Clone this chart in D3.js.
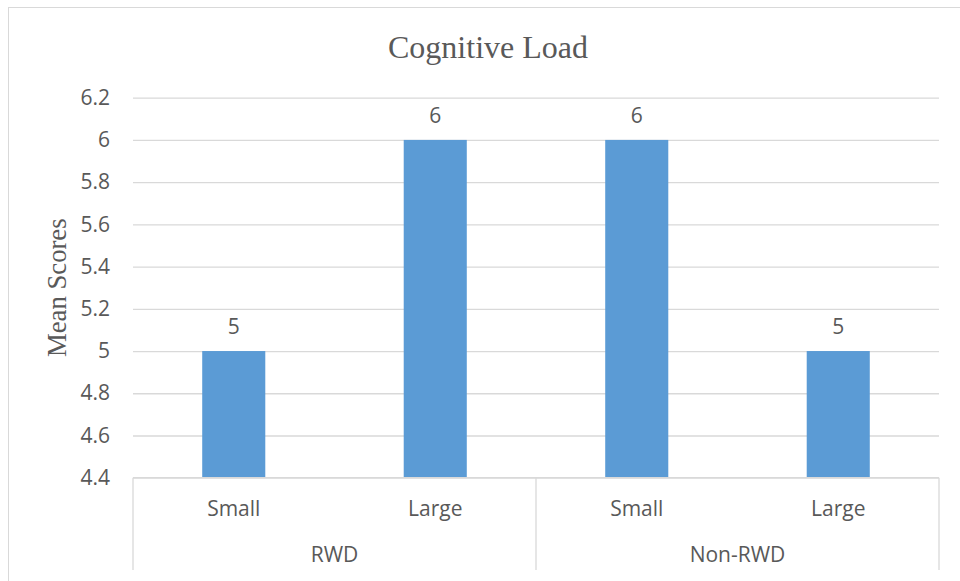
<!DOCTYPE html>
<html>
<head>
<meta charset="utf-8">
<script src="https://cdn.jsdelivr.net/npm/d3@7"></script>
<style>
    body { margin: 0; background: #fff; }
    svg { display: block; }
    .tick text, .cat, .grp, .val { font-family: "Open Sans", sans-serif; fill: #595959; }
</style>
</head>
<body>
<svg id="chart" width="960" height="581"></svg>
<script>
// Chart data
const groups = ["RWD", "Non-RWD"];
const categories = ["Small", "Large", "Small", "Large"];
const categoryGroup = [0, 0, 1, 1];
const values = [5, 6, 6, 5];
const yTicks = [4.4, 4.6, 4.8, 5, 5.2, 5.4, 5.6, 5.8, 6, 6.2];

const W = 960, H = 581;
const plot = { left: 133, right: 939, top: 97.7, bottom: 477.7 };
const axisColor = "#d9d9d9";
const textColor = "#595959";
const barColor = "#5b9bd5";

const svg = d3.select("#chart");

// Chart frame
svg.append("rect")
    .attr("x", 8.5).attr("y", 7.5)
    .attr("width", W).attr("height", H)
    .attr("fill", "#fff")
    .attr("stroke", axisColor)
    .attr("stroke-width", 1);

const x = d3.scaleBand()
    .domain(d3.range(categories.length))
    .range([plot.left, plot.right])
    .paddingInner(0.687)
    .paddingOuter(0.3435);

const y = d3.scaleLinear()
    .domain([yTicks[0], yTicks[yTicks.length - 1]])
    .range([plot.bottom, plot.top]);

// Gridlines and tick labels
const yAxis = svg.append("g")
    .attr("transform", `translate(${plot.left},0)`)
    .call(d3.axisLeft(y)
        .tickValues(yTicks)
        .tickSize(-(plot.right - plot.left))
        .tickPadding(23)
        .tickFormat(d => String(+d.toFixed(1))));
yAxis.select(".domain").remove();
yAxis.selectAll(".tick line")
    .attr("stroke", axisColor)
    .attr("stroke-width", 1.3);
yAxis.selectAll(".tick text")
    .attr("font-size", 21)
    .attr("fill", textColor);

// Bars
svg.append("g")
    .selectAll("rect")
    .data(values)
    .enter()
    .append("rect")
    .attr("x", (d, i) => x(i))
    .attr("width", x.bandwidth())
    .attr("y", d => y(d))
    .attr("height", d => y(yTicks[0]) - y(d))
    .attr("fill", barColor);

// Value labels
svg.append("g")
    .selectAll("text")
    .data(values)
    .enter()
    .append("text")
    .attr("class", "val")
    .attr("x", (d, i) => x(i) + x.bandwidth() / 2)
    .attr("y", d => y(d) - 17)
    .attr("text-anchor", "middle")
    .attr("font-size", 21)
    .text(d => d);

// Category axis (two levels)
const step = x.step();
const axisG = svg.append("g");
axisG.append("line")
    .attr("x1", plot.left).attr("x2", plot.right)
    .attr("y1", plot.bottom).attr("y2", plot.bottom)
    .attr("stroke", axisColor)
    .attr("stroke-width", 1.3);

const bounds = [0, 2, 4].map(i => plot.left + i * step);
axisG.selectAll("line.sep")
    .data(bounds)
    .enter()
    .append("line")
    .attr("class", "sep")
    .attr("x1", d => d).attr("x2", d => d)
    .attr("y1", plot.bottom).attr("y2", 570)
    .attr("stroke", axisColor)
    .attr("stroke-width", 1.3);

axisG.selectAll("text.cat")
    .data(categories)
    .enter()
    .append("text")
    .attr("class", "cat")
    .attr("x", (d, i) => x(i) + x.bandwidth() / 2)
    .attr("y", 516)
    .attr("text-anchor", "middle")
    .attr("font-size", 21)
    .text(d => d);

axisG.selectAll("text.grp")
    .data(groups)
    .enter()
    .append("text")
    .attr("class", "grp")
    .attr("x", (d, gi) => {
        const idx = categoryGroup.map((g, i) => g === gi ? i : -1).filter(i => i >= 0);
        return plot.left + (idx[0] + idx.length / 2) * step;
    })
    .attr("y", 562)
    .attr("text-anchor", "middle")
    .attr("font-size", 21)
    .text(d => d);

// Title
svg.append("text")
    .attr("x", 488)
    .attr("y", 58)
    .attr("text-anchor", "middle")
    .attr("font-family", "'Liberation Serif', 'Times New Roman', serif")
    .attr("font-size", 32)
    .attr("fill", textColor)
    .text("Cognitive Load");

// Y axis title
svg.append("text")
    .attr("transform", `translate(66,${(plot.top + plot.bottom) / 2}) rotate(-90)`)
    .attr("text-anchor", "middle")
    .attr("font-family", "'Liberation Serif', 'Times New Roman', serif")
    .attr("font-size", 26.7)
    .attr("fill", textColor)
    .text("Mean Scores");
</script>
</body>
</html>
